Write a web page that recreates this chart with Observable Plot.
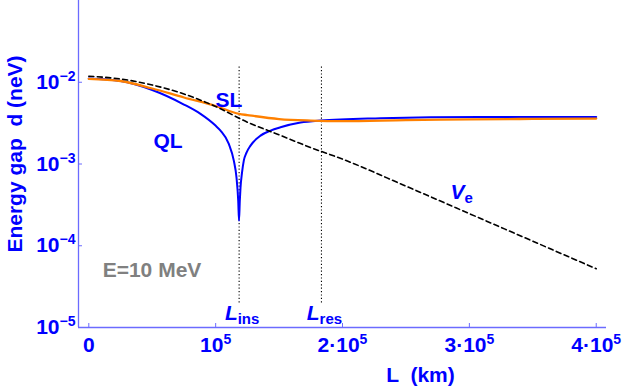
<!DOCTYPE html>
<html><head><meta charset="utf-8">
<script src="https://cdn.jsdelivr.net/npm/d3@7"></script>
<script src="https://cdn.jsdelivr.net/npm/@observablehq/plot@0.6"></script>
<style>
body{margin:0;background:#fff}
svg text{white-space:pre}
</style></head><body><div id="chart"></div>
<script>
// ---- data (L in km, gap d in neV) ----
const L_ve = [0,25000,50000,75000,100000,125000,150000,175000,200000,250000,300000,350000,400000];
const d_ve = [0.01185,0.010958,0.009255,0.007183,0.005050,0.003246,0.002276,0.001587,0.001147,0.000536,0.000247,0.0001137,0.0000523];

const L_sl = [0,25000,50000,75000,100000,118500,125000,150000,175000,200000,250000,300000,350000,400000];
const d_sl = [0.011007,0.010358,0.008387,0.006508,0.005122,0.004102,0.003966,0.003542,0.003397,0.003349,0.003445,0.003514,0.003563,0.003593];

const L_ql = [0,25000,50000,75000,88060,99880,103820,110370,114310,116440,117780,118410,119040,119590,120770,122190,124320,127470,135360,143250,151130,166900,182660,229960,308790,400000];
const d_ql = [0.011099,0.010358,0.008037,0.005342,0.004102,0.002950,0.002563,0.001761,0.001100,0.000681,0.000356,0.0002026,0.000356,0.000514,0.000784,0.001100,0.001378,0.001679,0.002225,0.002563,0.002812,0.003209,0.003397,0.003624,0.003770,0.003770];

const markerL = [118500, 183400];           // L_ins, L_res
const markerNames = ["L_ins", "L_res"];
const markerRange = [2.0e-5, 0.0156];

const xTicks = [0, 100000, 200000, 300000, 400000];
const xTickLabels = ["0", "10^5", "2·10^5", "3·10^5", "4·10^5"];
const yTicks = [1e-5, 1e-4, 1e-3, 1e-2];
const yTickLabels = ["10^\u22125", "10^\u22124", "10^\u22123", "10^\u22122"];

const curveLabels = [
  {text: "SL", L: 110520, d: 0.00597, color: "#0000ff"},
  {text: "QL", L: 62440, d: 0.001879, color: "#0000ff"},
  {text: "E=10 MeV", L: 49820, d: 0.0000502, color: "#808080"}
];
const veLabel = [{text: "V_e", L: 285140, d: 0.000452}];

// ---- layout ----
const W = 623, H = 389, mL = 78, mR = 17, mT = 0, mB = 62;
const innerW = W - mL - mR, innerH = H - mT - mB;
const xDomain = [-8120, 408100];
const yDomain = [1e-5, 1e-1];
const blue = "#0000ff", axisBlue = "#6b6bff";
const font = "'Liberation Sans', Arial, sans-serif";

const rows = (Ls, ds) => Ls.map((L, i) => ({L, d: ds[i]}));

const chart = Plot.plot({
  width: W, height: H,
  marginLeft: mL, marginRight: mR, marginTop: mT, marginBottom: mB,
  style: {fontFamily: font, background: "#fff"},
  x: {domain: xDomain},
  y: {type: "log", domain: yDomain},
  marks: [
    Plot.ruleX([xDomain[0]], {stroke: axisBlue, strokeWidth: 1.3}),
    Plot.ruleY([yDomain[0]], {stroke: axisBlue, strokeWidth: 1.3}),
    Plot.tickY(yTicks, {y: d => d, stroke: axisBlue, insetRight: innerW - 4}),
    Plot.tickX(xTicks, {x: d => d, stroke: axisBlue, insetTop: innerH - 4}),
    Plot.axisY({ticks: yTicks, tickSize: 0, tickPadding: 3, label: null,
      tickFormat: d => yTickLabels[yTicks.indexOf(d)], fontSize: 21, fontWeight: "bold", fill: blue}),
    Plot.axisX({ticks: xTicks, tickSize: 0, tickPadding: 10, label: null,
      tickFormat: d => xTickLabels[xTicks.indexOf(d)], fontSize: 21, fontWeight: "bold", fill: blue}),
    Plot.text(["Energy gap  d (neV)"], {frameAnchor: "left", rotate: -90, dx: -63, dy: -10,
      textAnchor: "middle", lineAnchor: "middle", fontSize: 21, fontWeight: "bold", fill: blue}),
    Plot.text(["L  (km)"], {frameAnchor: "bottom", dx: 78, dy: 48, textAnchor: "middle", lineAnchor: "middle",
      fontSize: 21, fontWeight: "bold", fill: blue}),
    Plot.ruleX(markerL, {y1: markerRange[0], y2: markerRange[1], stroke: "#000", strokeWidth: 1.1, strokeDasharray: "1.2,2.2"}),
    Plot.text(markerL, {x: d => d, y: 1.514e-5, text: (d, i) => markerNames[i], dx: 3,
      fontSize: 21, fontWeight: "bold", fill: blue}),
    Plot.line(rows(L_ql, d_ql), {x: "L", y: "d", stroke: blue, strokeWidth: 2, curve: "monotone-x"}),
    Plot.line(rows(L_sl, d_sl), {x: "L", y: "d", stroke: "#ff8000", strokeWidth: 2.3, curve: "monotone-x"}),
    Plot.line(rows(L_ve, d_ve), {x: "L", y: "d", stroke: "#000", strokeWidth: 1.6, strokeDasharray: "5,3.5", curve: "monotone-x"}),
    Plot.text(curveLabels, {x: "L", y: "d", text: "text", fill: "color", fontSize: 21, fontWeight: "bold"}),
    Plot.text(veLabel, {x: "L", y: "d", text: "text", textAnchor: "start", fill: blue, fontSize: 21, fontWeight: "bold"})
  ]
});
document.getElementById("chart").appendChild(chart);

// rich text: ^ superscript, _ subscript (base italic)
const NS = "http://www.w3.org/2000/svg";
d3.select(chart).selectAll("text").each(function() {
  const t = this.textContent;
  const m = t.match(/^(.*?)([\^_])(.+)$/);
  if (!m) return;
  const [, base, kind, rest] = m;
  this.textContent = "";
  const b = document.createElementNS(NS, "tspan");
  b.textContent = base;
  if (kind === "_") b.setAttribute("font-style", "italic");
  const s = document.createElementNS(NS, "tspan");
  s.textContent = rest;
  s.setAttribute("font-size", kind === "^" ? 14 : 15);
  s.setAttribute("dy", kind === "^" ? -8 : 4);
  this.appendChild(b); this.appendChild(s);
});
</script></body></html>
